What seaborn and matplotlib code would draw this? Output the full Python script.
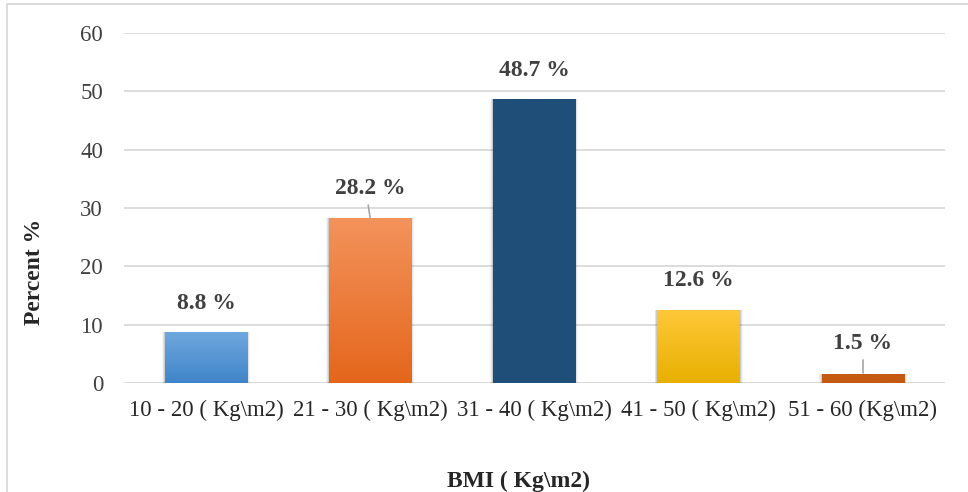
import numpy as np
import pandas as pd
import matplotlib
matplotlib.use("Agg")
import matplotlib.pyplot as plt
import seaborn as sns
from matplotlib.colors import LinearSegmentedColormap
from matplotlib.patches import Rectangle
from matplotlib.lines import Line2D

categories = ["10 - 20 ( Kg\\m2)", "21 - 30 ( Kg\\m2)", "31 - 40 ( Kg\\m2)",
              "41 - 50 ( Kg\\m2)", "51 - 60 (Kg\\m2)"]
percent = [8.8, 28.2, 48.7, 12.6, 1.5]
labels = ["8.8 %", "28.2 %", "48.7 %", "12.6 %", "1.5 %"]
yticks = [0, 10, 20, 30, 40, 50, 60]

# top / bottom colours of each bar's vertical gradient
top_colors = ["#70a8de", "#f3935c", "#1f4e79", "#ffc83a", "#c55a11"]
bottom_colors = ["#3f85c9", "#e4661b", "#1f4e79", "#e8b000", "#c55a11"]

sns.set_theme(style="white")
plt.rcParams["font.family"] = ["Liberation Serif", "DejaVu Serif"]

df = pd.DataFrame({"cat": categories, "pct": percent})

fig = plt.figure(figsize=(9.68, 4.92), dpi=100)
ax = fig.add_axes([0.128, 0.2215, 0.848, 0.7115])

sns.barplot(data=df, x="cat", y="pct", ax=ax, width=0.5, color="#888888",
            saturation=1, zorder=3)

ax.set_ylim(0, 60)
ax.set_yticks(yticks)
ax.set_xlim(-0.5, len(categories) - 0.5)
ax.yaxis.grid(True, color="#d9d9d9", linewidth=1.3, zorder=0)
for s in ax.spines.values():
    s.set_visible(False)
ax.axhline(0, color="#d9d9d9", linewidth=1.3, zorder=1)

ax.tick_params(axis="y", labelsize=16.5, colors="#404040", length=0, pad=15)
ax.tick_params(axis="x", labelsize=16.5, colors="#262626", length=0, pad=12)
ax.set_xlabel("BMI ( Kg\\m2)", fontsize=17, fontweight="bold",
              color="#262626")
ax.set_ylabel("Percent %", fontsize=17, fontweight="bold",
              color="#262626")
ax.xaxis.set_label_coords(0.481, -0.252)
ax.yaxis.set_label_coords(-0.096, 0.317)

# gradient fill and soft shadow for each bar
grad = np.linspace(0, 1, 256).reshape(-1, 1)
for i, p in enumerate(ax.patches):
    x0, y0 = p.get_x(), p.get_y()
    w, h = p.get_width(), p.get_height()
    for k, a in enumerate([0.10, 0.07, 0.04]):
        off = 0.012 * (k + 1)
        sh = Rectangle((x0 - off * 0.5, y0 - 0.25 * (k + 1)), w + off,
                       h + 0.25 * (k + 1), facecolor="#000000", alpha=a,
                       edgecolor="none", zorder=2)
        ax.add_patch(sh)
    cmap = LinearSegmentedColormap.from_list(
        f"g{i}", [bottom_colors[i], top_colors[i]])
    im = ax.imshow(grad, cmap=cmap, aspect="auto", origin="lower",
                   extent=(x0, x0 + w, y0, y0 + h), zorder=3.5)
    im.set_clip_path(p)
    p.set_facecolor("none")
    p.set_edgecolor("none")
ax.set_xlim(-0.5, len(categories) - 0.5)
ax.set_ylim(0, 60)

# value labels above bars
label_offsets = [4.9, 5.2, 4.8, 4.9, 5.3]
for i, (v, t) in enumerate(zip(percent, labels)):
    ax.text(i, v + label_offsets[i], t, ha="center", va="center",
            fontsize=17, fontweight="bold", color="#404040", zorder=5)

# leader lines for labels sitting away from their bars
ax.plot([0.988, 1.0], [30.5, 28.3], color="#a6a6a6", lw=1.2, zorder=5)
ax.plot([4, 4], [1.7, 3.9], color="#a6a6a6", lw=1.2, zorder=5)

# chart area border
fig.add_artist(Line2D([7 / 968, 1.0], [1 - 4 / 492, 1 - 4 / 492],
                      color="#d9d9d9", lw=1.3))
fig.add_artist(Line2D([7 / 968, 7 / 968], [0, 1 - 4 / 492],
                      color="#d9d9d9", lw=1.3))

fig.savefig("out.png", dpi=100)
